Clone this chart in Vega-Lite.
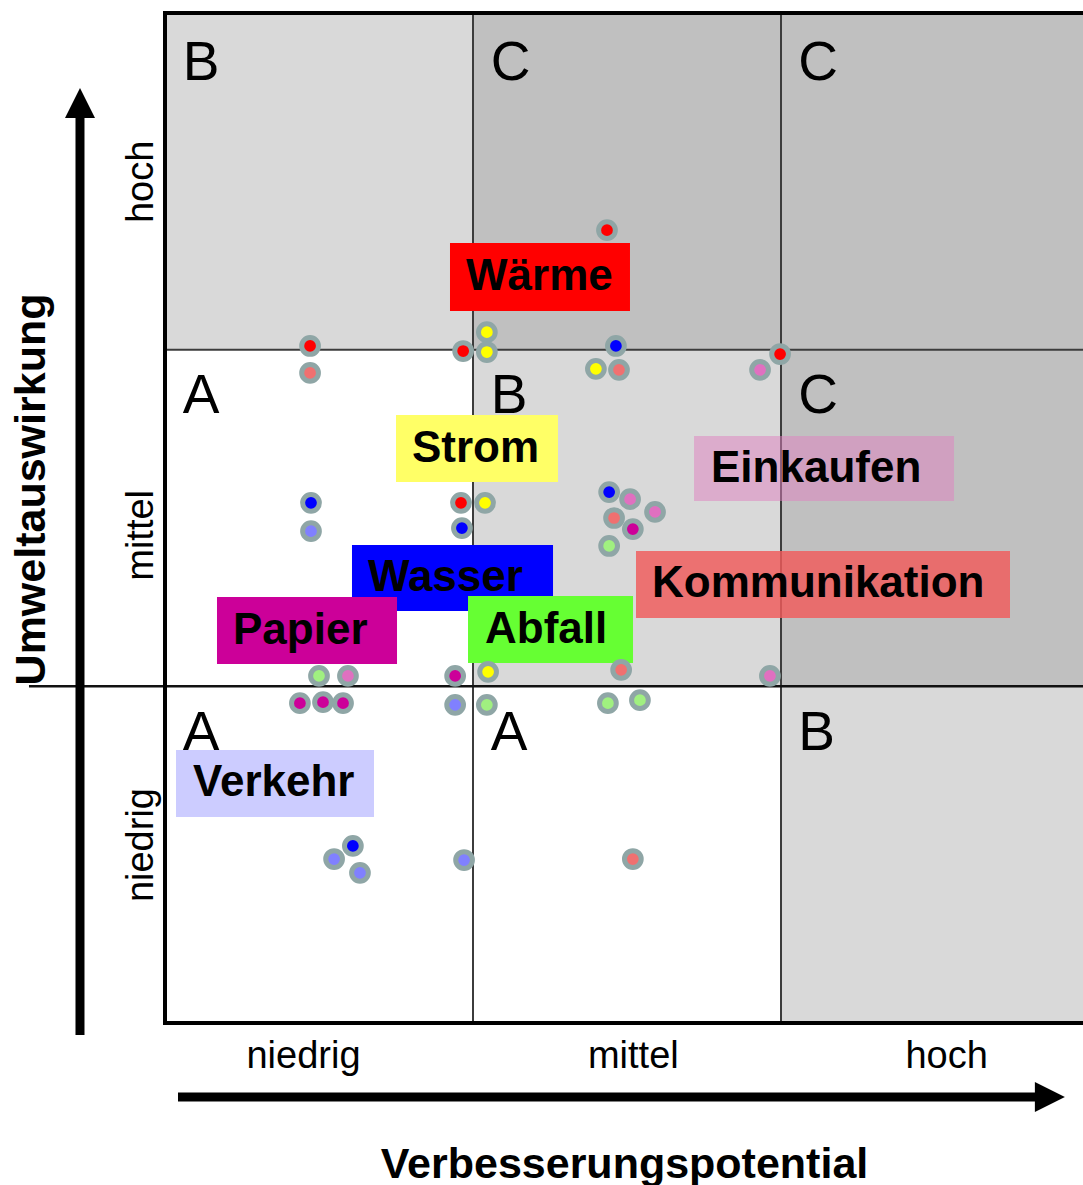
{
  "$schema": "https://vega.github.io/schema/vega-lite/v6.json",
  "width": 918,
  "height": 1010,
  "autosize": {"type": "none"},
  "padding": {"left": 165, "top": 13, "right": 0, "bottom": 162},
  "background": "white",
  "config": {"view": {"stroke": null}, "font": "Liberation Sans"},
  "datasets": {
    "zellen": [
      {"x": 0, "x2": 1, "y": 2, "y2": 3, "stufe": "hell"},
      {"x": 1, "x2": 2, "y": 2, "y2": 3, "stufe": "dunkel"},
      {"x": 2, "x2": 3, "y": 2, "y2": 3, "stufe": "dunkel"},
      {"x": 0, "x2": 1, "y": 1, "y2": 2, "stufe": "weiss"},
      {"x": 1, "x2": 2, "y": 1, "y2": 2, "stufe": "hell"},
      {"x": 2, "x2": 3, "y": 1, "y2": 2, "stufe": "dunkel"},
      {"x": 0, "x2": 1, "y": 0, "y2": 1, "stufe": "weiss"},
      {"x": 1, "x2": 2, "y": 0, "y2": 1, "stufe": "weiss"},
      {"x": 2, "x2": 3, "y": 0, "y2": 1, "stufe": "hell"}
    ],
    "linien": [
      {"art": "gitter", "x": 1, "x2": 1, "y": 0, "y2": 3},
      {"art": "gitter", "x": 2, "x2": 2, "y": 0, "y2": 3},
      {"art": "gitter", "x": 0, "x2": 3, "y": 2, "y2": 2},
      {"art": "achse", "x": -0.4416, "x2": 3, "y": 1, "y2": 1},
      {"art": "rahmen", "x": 0, "x2": 0, "y": 0, "y2": 3},
      {"art": "rahmen", "x": 0, "x2": 3, "y": 3, "y2": 3},
      {"art": "rahmen", "x": 0, "x2": 3, "y": 0, "y2": 0},
      {"art": "pfeil", "x": -0.276, "x2": -0.276, "y": -0.0356, "y2": 2.70},
      {"art": "pfeil", "x": 0.0422, "x2": 2.857, "y": -0.2198, "y2": -0.2198}
    ],
    "spitzen": [
      {"richtung": "oben", "x": -0.276, "y": 2.7326},
      {"richtung": "rechts", "x": 2.873, "y": -0.2198}
    ],
    "buchstaben": [
      {"t": "B", "x": 0.058, "y": 2.801},
      {"t": "C", "x": 1.058, "y": 2.801},
      {"t": "C", "x": 2.056, "y": 2.801},
      {"t": "A", "x": 0.058, "y": 1.812},
      {"t": "B", "x": 1.058, "y": 1.812},
      {"t": "C", "x": 2.056, "y": 1.812},
      {"t": "A", "x": 0.058, "y": 0.811},
      {"t": "A", "x": 1.058, "y": 0.811},
      {"t": "B", "x": 2.056, "y": 0.811}
    ],
    "kaesten": [
      {"name": "Wärme", "x": 0.9253, "x2": 1.5097, "y": 2.1148, "y2": 2.3168},
      {"name": "Strom", "x": 0.7500, "x2": 1.2760, "y": 1.6069, "y2": 1.8059},
      {"name": "Einkaufen", "x": 1.7176, "x2": 2.5617, "y": 1.5505, "y2": 1.7436},
      {"name": "Wasser", "x": 0.6071, "x2": 1.2598, "y": 1.2238, "y2": 1.4198},
      {"name": "Kommunikation", "x": 1.5292, "x2": 2.7435, "y": 1.2030, "y2": 1.4020},
      {"name": "Papier", "x": 0.1688, "x2": 0.7533, "y": 1.0663, "y2": 1.2653},
      {"name": "Abfall", "x": 0.9838, "x2": 1.5195, "y": 1.0693, "y2": 1.2683},
      {"name": "Verkehr", "x": 0.0357, "x2": 0.6786, "y": 0.6119, "y2": 0.8109}
    ],
    "beschriftung": [
      {"name": "Wärme", "x": 0.9773, "y": 2.2158},
      {"name": "Strom", "x": 0.8019, "y": 1.7064},
      {"name": "Einkaufen", "x": 1.7727, "y": 1.6470},
      {"name": "Wasser", "x": 0.6591, "y": 1.3218},
      {"name": "Kommunikation", "x": 1.5812, "y": 1.3025},
      {"name": "Papier", "x": 0.2208, "y": 1.1658},
      {"name": "Abfall", "x": 1.0390, "y": 1.1688},
      {"name": "Verkehr", "x": 0.0909, "y": 0.7114}
    ],
    "punkte": [
      {"bereich": "Wärme", "x": 1.435, "y": 2.355},
      {"bereich": "Wärme", "x": 0.471, "y": 2.011},
      {"bereich": "Kommunikation", "x": 0.471, "y": 1.931},
      {"bereich": "Wärme", "x": 0.968, "y": 1.996},
      {"bereich": "Strom", "x": 1.045, "y": 2.052},
      {"bereich": "Strom", "x": 1.045, "y": 1.993},
      {"bereich": "Wasser", "x": 1.464, "y": 2.011},
      {"bereich": "Strom", "x": 1.399, "y": 1.943},
      {"bereich": "Kommunikation", "x": 1.474, "y": 1.940},
      {"bereich": "Einkaufen", "x": 1.932, "y": 1.940},
      {"bereich": "Wärme", "x": 1.997, "y": 1.987},
      {"bereich": "Wasser", "x": 0.474, "y": 1.545},
      {"bereich": "Verkehr", "x": 0.474, "y": 1.461},
      {"bereich": "Wärme", "x": 0.961, "y": 1.545},
      {"bereich": "Wasser", "x": 0.964, "y": 1.470},
      {"bereich": "Strom", "x": 1.039, "y": 1.545},
      {"bereich": "Wasser", "x": 1.442, "y": 1.577},
      {"bereich": "Einkaufen", "x": 1.510, "y": 1.556},
      {"bereich": "Kommunikation", "x": 1.458, "y": 1.500},
      {"bereich": "Papier", "x": 1.519, "y": 1.467},
      {"bereich": "Einkaufen", "x": 1.591, "y": 1.518},
      {"bereich": "Abfall", "x": 1.442, "y": 1.417},
      {"bereich": "Abfall", "x": 0.500, "y": 1.031},
      {"bereich": "Einkaufen", "x": 0.594, "y": 1.031},
      {"bereich": "Papier", "x": 0.942, "y": 1.031},
      {"bereich": "Strom", "x": 1.049, "y": 1.043},
      {"bereich": "Kommunikation", "x": 1.481, "y": 1.049},
      {"bereich": "Einkaufen", "x": 1.964, "y": 1.031},
      {"bereich": "Papier", "x": 0.438, "y": 0.950},
      {"bereich": "Papier", "x": 0.513, "y": 0.953},
      {"bereich": "Papier", "x": 0.578, "y": 0.950},
      {"bereich": "Verkehr", "x": 0.942, "y": 0.945},
      {"bereich": "Abfall", "x": 1.045, "y": 0.945},
      {"bereich": "Abfall", "x": 1.438, "y": 0.950},
      {"bereich": "Abfall", "x": 1.542, "y": 0.959},
      {"bereich": "Wasser", "x": 0.610, "y": 0.526},
      {"bereich": "Verkehr", "x": 0.549, "y": 0.487},
      {"bereich": "Verkehr", "x": 0.633, "y": 0.446},
      {"bereich": "Verkehr", "x": 0.971, "y": 0.484},
      {"bereich": "Kommunikation", "x": 1.519, "y": 0.487}
    ]
  },
  "encoding": {
    "x": {
      "field": "x",
      "type": "quantitative",
      "scale": {"domain": [0, 2.9805], "nice": false, "zero": false},
      "axis": {
        "values": [0.448, 1.519, 2.536],
        "labelExpr": "datum.value < 1 ? 'niedrig' : datum.value < 2 ? 'mittel' : 'hoch'",
        "domain": false,
        "ticks": false,
        "tickSize": 0,
        "grid": false,
        "labelFont": "Liberation Sans",
        "labelFontSize": 38,
        "labelColor": "black",
        "labelPadding": 44,
        "labelBaseline": "alphabetic",
        "labelAlign": "center",
        "labelFlush": false,
        "labelOverlap": false,
        "labelBound": false,
        "title": "Verbesserungspotential",
        "titleFont": "Liberation Sans",
        "titleFontSize": 43,
        "titleFontWeight": "bold",
        "titleColor": "black",
        "titleBaseline": "alphabetic",
        "titleAlign": "center",
        "titleX": 459,
        "titleY": 154
      }
    },
    "y": {
      "field": "y",
      "type": "quantitative",
      "scale": {"domain": [0, 3], "nice": false, "zero": false},
      "axis": {
        "values": [0.53, 1.45, 2.5],
        "labelExpr": "datum.value < 1 ? 'niedrig' : datum.value < 2 ? 'mittel' : 'hoch'",
        "domain": false,
        "ticks": false,
        "tickSize": 0,
        "grid": false,
        "labelFont": "Liberation Sans",
        "labelFontSize": 38,
        "labelColor": "black",
        "labelAngle": -90,
        "labelPadding": 13,
        "labelBaseline": "alphabetic",
        "labelAlign": "center",
        "labelFlush": false,
        "labelOverlap": false,
        "labelBound": false,
        "title": "Umweltauswirkung",
        "titleFont": "Liberation Sans",
        "titleFontSize": 43,
        "titleFontWeight": "bold",
        "titleColor": "black",
        "titleAngle": -90,
        "titleBaseline": "alphabetic",
        "titleAlign": "center",
        "titleX": -121,
        "titleY": 476
      }
    }
  },
  "resolve": {"scale": {"fill": "independent"}},
  "layer": [
    {
      "data": {"name": "zellen"},
      "mark": {"type": "rect"},
      "encoding": {
        "x2": {"field": "x2"},
        "y2": {"field": "y2"},
        "fill": {
          "field": "stufe",
          "type": "nominal",
          "scale": {"domain": ["weiss", "hell", "dunkel"], "range": ["#ffffff", "#d9d9d9", "#c0c0c0"]},
          "legend": null
        }
      }
    },
    {
      "data": {"name": "linien"},
      "transform": [{"filter": "datum.art === 'gitter'"}],
      "mark": {"type": "rule", "color": "#3c3c3c", "strokeWidth": 2},
      "encoding": {"x2": {"field": "x2"}, "y2": {"field": "y2"}}
    },
    {
      "data": {"name": "linien"},
      "transform": [{"filter": "datum.art === 'achse'"}],
      "mark": {"type": "rule", "color": "#111111", "strokeWidth": 2.5},
      "encoding": {"x2": {"field": "x2"}, "y2": {"field": "y2"}}
    },
    {
      "data": {"name": "linien"},
      "transform": [{"filter": "datum.art === 'rahmen'"}],
      "mark": {"type": "rule", "color": "#000000", "strokeWidth": 4, "strokeCap": "square"},
      "encoding": {"x2": {"field": "x2"}, "y2": {"field": "y2"}}
    },
    {
      "data": {"name": "linien"},
      "transform": [{"filter": "datum.art === 'pfeil'"}],
      "mark": {"type": "rule", "color": "#000000", "strokeWidth": 9, "strokeCap": "butt"},
      "encoding": {"x2": {"field": "x2"}, "y2": {"field": "y2"}}
    },
    {
      "data": {"name": "spitzen"},
      "transform": [{"filter": "datum.richtung === 'oben'"}],
      "mark": {"type": "point", "shape": "M0,-1L-1,1L1,1Z", "size": 900, "filled": true, "color": "#000000", "opacity": 1, "strokeWidth": 0}
    },
    {
      "data": {"name": "spitzen"},
      "transform": [{"filter": "datum.richtung === 'rechts'"}],
      "mark": {"type": "point", "shape": "M1,0L-1,-1L-1,1Z", "size": 900, "filled": true, "color": "#000000", "opacity": 1, "strokeWidth": 0}
    },
    {
      "data": {"name": "buchstaben"},
      "mark": {"type": "text", "align": "left", "baseline": "alphabetic", "fontSize": 55, "font": "Liberation Sans", "color": "#000000"},
      "encoding": {"text": {"field": "t"}}
    },
    {
      "data": {"name": "kaesten"},
      "mark": {"type": "rect"},
      "encoding": {
        "x2": {"field": "x2"},
        "y2": {"field": "y2"},
        "fill": {
          "field": "name",
          "type": "nominal",
          "scale": {
            "domain": ["Wärme", "Strom", "Einkaufen", "Wasser", "Kommunikation", "Papier", "Abfall", "Verkehr"],
            "range": ["#ff0000", "#ffff66", "#e080c0", "#0000ff", "#f05a5a", "#cc0099", "#66ff33", "#ccccff"]
          },
          "legend": null
        },
        "fillOpacity": {
          "condition": [
            {"test": "datum.name === 'Einkaufen'", "value": 0.5},
            {"test": "datum.name === 'Kommunikation'", "value": 0.82}
          ],
          "value": 1
        }
      }
    },
    {
      "data": {"name": "beschriftung"},
      "mark": {"type": "text", "align": "left", "baseline": "middle", "fontSize": 44, "fontWeight": "bold", "font": "Liberation Sans", "color": "#000000"},
      "encoding": {"text": {"field": "name"}}
    },
    {
      "data": {"name": "punkte"},
      "mark": {"type": "point", "shape": "circle", "filled": true, "size": 280, "stroke": "#8fa6a6", "strokeWidth": 5, "opacity": 1},
      "encoding": {
        "fill": {
          "field": "bereich",
          "type": "nominal",
          "scale": {
            "domain": ["Wärme", "Strom", "Einkaufen", "Wasser", "Kommunikation", "Papier", "Abfall", "Verkehr"],
            "range": ["#ff0000", "#ffff00", "#e070c0", "#0000ff", "#f07070", "#cc0099", "#a0f080", "#8080ff"]
          },
          "legend": null
        }
      }
    }
  ]
}
